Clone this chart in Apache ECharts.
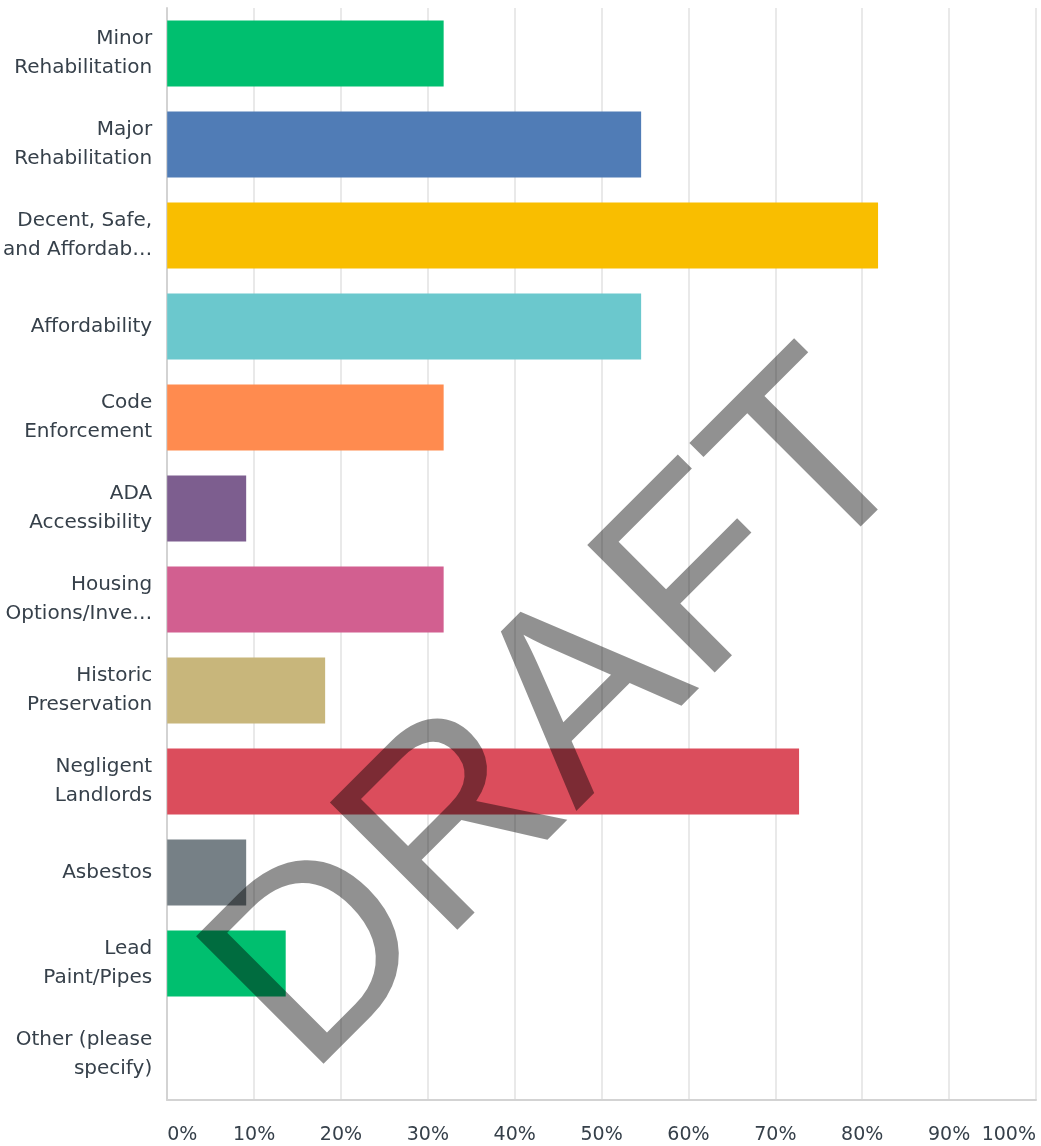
<!DOCTYPE html>
<html>
<head>
<meta charset="utf-8">
<style>
  html, body { margin: 0; padding: 0; background: #ffffff; }
  #chart { width: 1041px; height: 1146px; }
</style>
<script src="https://cdn.jsdelivr.net/npm/echarts@6/dist/echarts.min.js"></script>
</head>
<body>
<div id="chart"></div>
<script>
// Answer choices, top to bottom (as shown on the axis)
const categories = [
  'Minor\nRehabilitation',
  'Major\nRehabilitation',
  'Decent, Safe,\nand Affordab…',
  'Affordability',
  'Code\nEnforcement',
  'ADA\nAccessibility',
  'Housing\nOptions/Inve…',
  'Historic\nPreservation',
  'Negligent\nLandlords',
  'Asbestos',
  'Lead\nPaint/Pipes',
  'Other (please\nspecify)'
];

// Share of respondents (%)
const percents = [31.82, 54.55, 81.82, 54.55, 31.82, 9.09, 31.82, 18.18, 72.73, 9.09, 13.64, 0];

const barColors = [
  '#00bf6f', '#507cb6', '#f9be00', '#6bc8cd', '#ff8b4f', '#7d5e8f',
  '#d25f90', '#c8b67b', '#db4d5c', '#768086', '#00bf6f', '#507cb6'
];

const xTicks = [0, 10, 20, 30, 40, 50, 60, 70, 80, 90, 100];

const watermark = 'DRAFT';

const font = '"DejaVu Sans", "Open Sans", sans-serif';
const textColor = '#36404a';

const chart = echarts.init(document.getElementById('chart'), null, { renderer: 'canvas' });

chart.setOption({
  animation: false,
  backgroundColor: '#ffffff',
  grid: { left: 167, right: 5, top: 8, bottom: 46, containLabel: false },
  xAxis: {
    type: 'value',
    min: xTicks[0],
    max: xTicks[xTicks.length - 1],
    interval: 10,
    axisLine: { show: true, lineStyle: { color: '#d3d3d3', width: 2 } },
    axisTick: { show: false },
    splitLine: { show: true, lineStyle: { color: '#e9e9e9', width: 2 } },
    axisLabel: {
      formatter: v => v + '%',
      color: textColor,
      fontFamily: font,
      fontSize: 19,
      margin: 26,
      alignMinLabel: 'left',
      alignMaxLabel: 'right'
    }
  },
  yAxis: {
    type: 'category',
    inverse: true,
    data: categories,
    axisLine: { show: true, lineStyle: { color: '#d3d3d3', width: 2 } },
    axisTick: { show: false },
    splitLine: { show: false },
    axisLabel: {
      color: textColor,
      fontFamily: font,
      fontSize: 20,
      lineHeight: 29,
      margin: 15,
      align: 'right',
      padding: [4, 0, 0, 0]
    }
  },
  series: [{
    type: 'bar',
    data: percents.map((v, i) => ({ value: v, itemStyle: { color: barColors[i] } })),
    barCategoryGap: '27.5%',
    silent: true
  }],
  graphic: [{
    type: 'text',
    x: 566,
    y: 719,
    rotation: Math.PI / 4,
    silent: true,
    z: 100,
    style: {
      text: watermark,
      x: 0,
      y: 0,
      align: 'center',
      verticalAlign: 'middle',
      fontFamily: '"Liberation Sans", Arial, sans-serif',
      fontSize: 262,
      fill: 'rgba(0,0,0,0.43)'
    }
  }]
});
</script>
</body>
</html>
